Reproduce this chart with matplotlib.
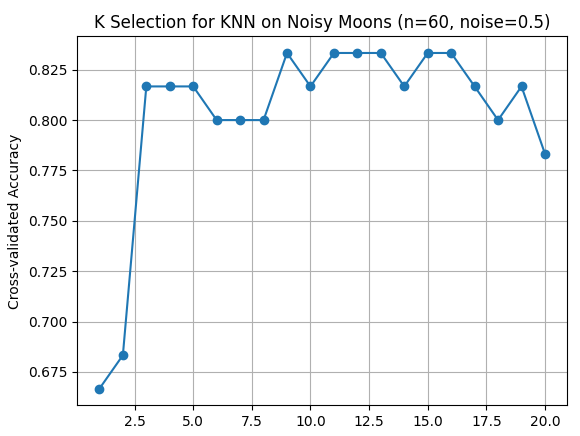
import matplotlib
matplotlib.use("Agg")
import matplotlib.pyplot as plt

k_values = list(range(1, 21))
accuracy = [0.6667, 0.6833, 0.8167, 0.8167, 0.8167, 0.8, 0.8, 0.8, 0.8333, 0.8167,
            0.8333, 0.8333, 0.8333, 0.8167, 0.8333, 0.8333, 0.8167, 0.8, 0.8167, 0.7833]

fig, ax = plt.subplots(figsize=(5.8, 4.36), dpi=100)
ax.plot(k_values, accuracy, marker='o')
ax.set_title("K Selection for KNN on Noisy Moons (n=60, noise=0.5)")
ax.set_xlabel("K")
ax.set_ylabel("Cross-validated Accuracy")
ax.grid(True)
fig.subplots_adjust(left=0.133, right=0.978, top=0.917, bottom=0.07)
fig.savefig("out.png", dpi=100)
